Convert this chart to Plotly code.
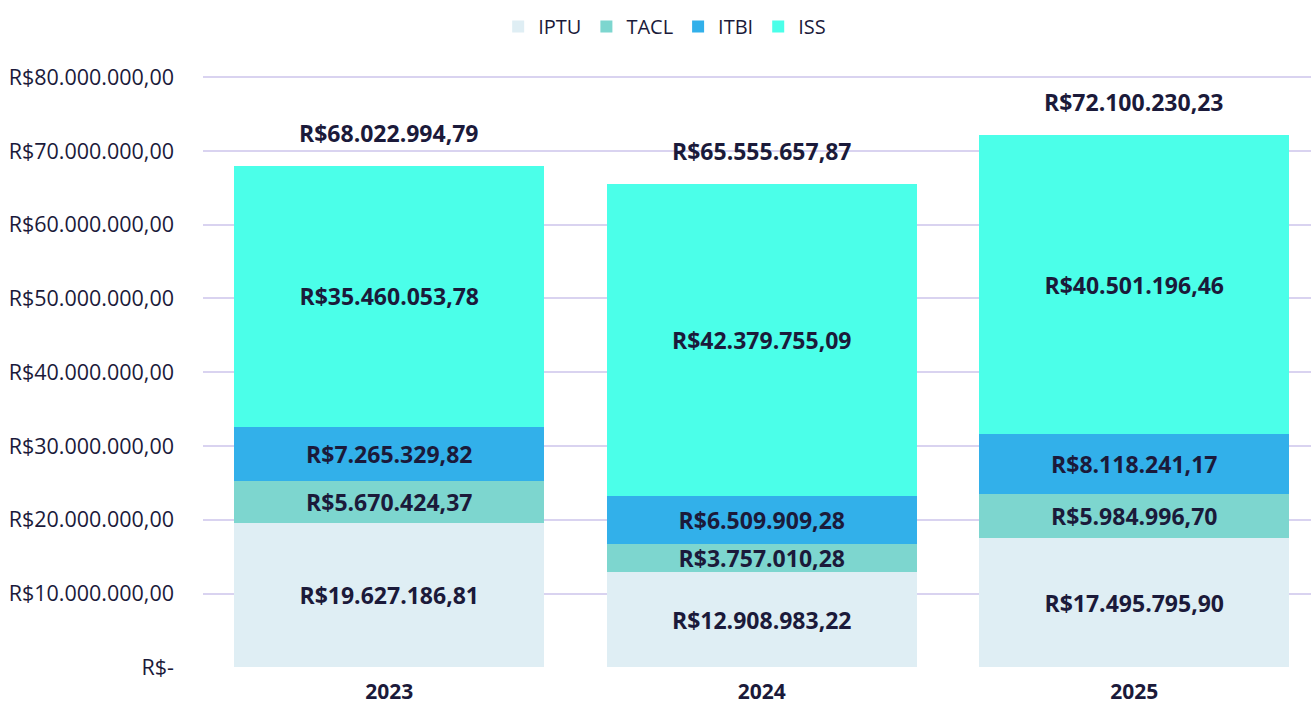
import plotly.graph_objects as go

years = ["2023", "2024", "2025"]
iptu = [19627186.81, 12908983.22, 17495795.90]
tacl = [5670424.37, 3757010.28, 5984996.70]
itbi = [7265329.82, 6509909.28, 8118241.17]
iss = [35460053.78, 42379755.09, 40501196.46]
totals = [68022994.79, 65555657.87, 72100230.23]
tick_vals = [0, 10e6, 20e6, 30e6, 40e6, 50e6, 60e6, 70e6, 80e6]
tick_text = ["R$-", "R$10.000.000,00", "R$20.000.000,00", "R$30.000.000,00",
             "R$40.000.000,00", "R$50.000.000,00", "R$60.000.000,00",
             "R$70.000.000,00", "R$80.000.000,00"]

def brl(v):
    s = f"{v:,.2f}"
    s = s.replace(",", "X").replace(".", ",").replace("X", ".")
    return "R$" + s

series = [("IPTU", iptu, "#DFEEF4"), ("TACL", tacl, "#7DD6CF"),
          ("ITBI", itbi, "#32B0EA"), ("ISS", iss, "#4BFFE9")]

FONT = "Open Sans"
TXT = "#1B1A3A"

fig = go.Figure()
for name, vals, col in series:
    fig.add_trace(go.Bar(
        x=years, y=vals, name=name, marker=dict(color=col, line=dict(width=0)),
        text=[brl(v) for v in vals], textposition="inside",
        insidetextanchor="middle", textangle=0,
        textfont=dict(family=FONT, size=23, color=TXT, weight="bold"),
        constraintext="none", cliponaxis=False,
    ))

for i, t in enumerate(totals):
    fig.add_annotation(x=i, y=t, xref="x", yref="y",
                       text="<b>" + brl(t) + "</b>", showarrow=False,
                       yanchor="middle", yshift=33,
                       font=dict(family=FONT, size=23, color=TXT))

fig.update_layout(
    barmode="stack", bargap=0.168,
    width=1311, height=706,
    margin=dict(l=203, r=0, t=74.8, b=38.3, autoexpand=False),
    plot_bgcolor="white", paper_bgcolor="white",
    font=dict(family=FONT, color=TXT),
    legend=dict(orientation="h", x=0.507, xref="container", xanchor="center",
                y=0.99, yref="container", yanchor="top",
                font=dict(family=FONT, size=20, color=TXT),
                traceorder="normal"),
    xaxis=dict(type="category", range=[-0.5, 2.4745], automargin=False,
               tickfont=dict(family=FONT, size=21, color=TXT, weight="bold"),
               showgrid=False, zeroline=False, showline=False, ticks="",
               ticklabelstandoff=9),
    yaxis=dict(range=[-0.1e6, 80.3e6], tickvals=tick_vals, ticktext=tick_text,
               automargin=False,
               tickfont=dict(family=FONT, size=21.5, color=TXT),
               gridcolor="#D9D3F0", gridwidth=2, zeroline=False, showline=False,
               ticks="", ticklabelstandoff=28),
)
fig.write_html("out.html", config={"displayModeBar": False},
               post_script="document.body.style.margin='0';")
